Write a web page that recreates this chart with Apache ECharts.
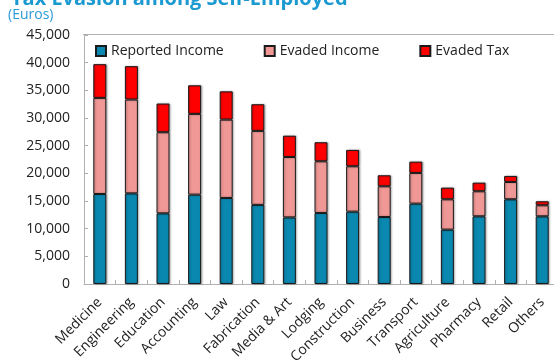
<!DOCTYPE html>
<html>
<head>
<meta charset="utf-8">
<script src="https://cdn.jsdelivr.net/npm/echarts@6/dist/echarts.min.js"></script>
<style>
  html, body { margin: 0; padding: 0; background: #fff; }
  #chart { width: 554px; height: 364px; }
</style>
</head>
<body>
<div id="chart"></div>
<script>
// categories along the x axis
const categories = ['Medicine', 'Engineering', 'Education', 'Accounting', 'Law', 'Fabrication',
  'Media & Art', 'Lodging', 'Construction', 'Business', 'Transport', 'Agriculture',
  'Pharmacy', 'Retail', 'Others'];
// stacked pieces, euros
const reportedIncome = [16270, 16380, 12770, 16150, 15550, 14300, 12040, 12840, 13070, 12110, 14520, 9820, 12230, 15310, 12230];
const evadedIncome = [17360, 16960, 14660, 14590, 14160, 13370, 10910, 9340, 8210, 5550, 5550, 5490, 4530, 3130, 2000];
const evadedTax = [6100, 6030, 5180, 5170, 5110, 4820, 3850, 3440, 2950, 1990, 2040, 2100, 1560, 1090, 720];

const font = '"Open Sans", "Noto Sans", sans-serif';

let myChart = echarts.init(document.getElementById('chart'));

// common style for each bar piece
function barStyle(color) {
    return {
        color: color,
        borderColor: '#1a1a1a',
        borderWidth: 1,
        shadowColor: 'rgba(0,0,0,0.3)',
        shadowBlur: 2,
        shadowOffsetX: 1,
        shadowOffsetY: 0
    };
}

let option = {
    backgroundColor: '#fff',
    animation: false,
    title: {
        text: 'Tax Evasion among Self-Employed',
        left: 6,
        top: -16,
        textStyle: { color: '#1a9ad0', fontSize: 20, fontWeight: 'bold', fontFamily: font }
    },
    graphic: [{
        type: 'text',
        left: 8,
        top: 8,
        style: { text: '(Euros)', fill: '#2a9ad6', font: '14px ' + font }
    }, {
        // plot area top border
        type: 'line',
        shape: { x1: 83, y1: 34.5, x2: 554, y2: 34.5 },
        style: { stroke: '#b0b0b0', lineWidth: 1 }
    }],
    legend: {
        left: 90,
        top: 39,
        itemWidth: 10,
        itemHeight: 10,
        itemGap: 40,
        icon: 'rect',
        textStyle: { color: '#222', fontSize: 14, fontFamily: font },
        data: ['Reported Income', 'Evaded Income', 'Evaded Tax']
    },
    grid: {
        left: 84,
        right: -4,
        top: 35,
        bottom: 80,
        containLabel: false,
        outerBoundsMode: 'none'
    },
    xAxis: {
        type: 'category',
        data: categories,
        axisLine: { lineStyle: { color: '#b0b0b0' } },
        axisTick: { show: true, inside: true, length: 4, alignWithLabel: false, lineStyle: { color: '#b0b0b0' } },
        axisLabel: {
            rotate: 45,
            interval: 0,
            margin: 16,
            color: '#222',
            fontSize: 14,
            fontFamily: font
        },
        splitLine: { show: false }
    },
    yAxis: {
        type: 'value',
        min: 0,
        max: 45000,
        interval: 5000,
        axisLine: { show: true, lineStyle: { color: '#b0b0b0' } },
        axisTick: { show: true, inside: true, length: 4, lineStyle: { color: '#b0b0b0' } },
        axisLabel: {
            color: '#222',
            fontSize: 14,
            fontFamily: font,
            margin: 14,
            formatter: v => v.toLocaleString('en-US')
        },
        splitLine: { show: false }
    },
    series: [
        {
            name: 'Reported Income',
            type: 'bar',
            stack: 'total',
            barWidth: 13,
            itemStyle: barStyle('#0a88b0'),
            data: reportedIncome
        },
        {
            name: 'Evaded Income',
            type: 'bar',
            stack: 'total',
            barWidth: 13,
            itemStyle: barStyle('#ef9896'),
            data: evadedIncome
        },
        {
            name: 'Evaded Tax',
            type: 'bar',
            stack: 'total',
            barWidth: 13,
            itemStyle: barStyle('#ff0000'),
            data: evadedTax
        }
    ]
};
option && myChart.setOption(option);
</script>
</body>
</html>
